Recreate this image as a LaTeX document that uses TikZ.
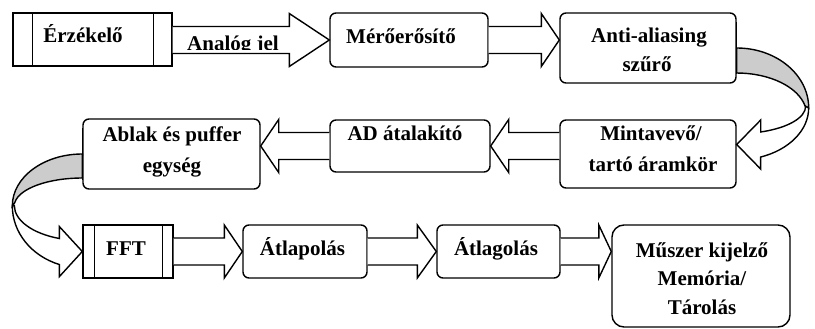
\documentclass[tikz,border=0pt]{standalone}
\usepackage{fontspec}
\setmainfont{Liberation Serif}
\usetikzlibrary{calc}

\tikzset{
  box/.style={draw, fill=white, line width=1.4pt, inner sep=0pt, rounded corners=6pt},
  barbox/.style={draw, fill=white, line width=1.4pt, inner sep=0pt},
  arrowbody/.style={draw, fill=white, line width=1.4pt, line join=miter},
  backband/.style={draw, fill=black!20, line width=1.4pt},
  frontband/.style={draw, fill=white, line width=1.4pt, line join=miter},
  lbl/.style={font=\fontsize{21}{25}\selectfont\bfseries, inner sep=0pt, anchor=base},
}

% horizontal block arrow: #1 tail point, #2 tip point, #3 x offset of the head base from the tip
\newcommand\blockarrow[3]{%
  \path[arrowbody] ($(#1)+(0,-13.5)$) -- ($(#2)+(#3,-13.5)$) -- ($(#2)+(#3,-26.5)$)
    -- (#2) -- ($(#2)+(#3,26.5)$) -- ($(#2)+(#3,13.5)$) -- ($(#1)+(0,13.5)$);}

\begin{document}
\begin{tikzpicture}[x=1pt, y=-1pt]
\useasboundingbox (0,0) rectangle (815,329);

% blocks
\node[barbox, minimum width=159, minimum height=53] (erz)   at (92.5,39.5) {};
\node[box, minimum width=158, minimum height=54]    (mero)  at (409,40) {};
\node[box, minimum width=176, minimum height=70]    (anti)  at (648,48) {};
\node[box, minimum width=176, minimum height=68]    (minta) at (648,154) {};
\node[box, minimum width=160, minimum height=52]    (ad)    at (410,146) {};
\node[box, minimum width=177, minimum height=70]    (ablak) at (171.5,154) {};
\node[barbox, minimum width=90, minimum height=53]  (fft)   at (128,251.5) {};
\node[box, minimum width=124, minimum height=53]    (atlap) at (305,251.5) {};
\node[box, minimum width=123, minimum height=53]    (atlag) at (498.5,251.5) {};
\node[box, rounded corners=12pt, minimum width=178, minimum height=102] (muszer) at (701,276) {};

% side bars of the two process blocks
\draw[line width=1.4pt] ([xshift=20pt]erz.north west) -- ([xshift=20pt]erz.south west);
\draw[line width=1.4pt] ([xshift=-19pt]erz.north east) -- ([xshift=-19pt]erz.south east);
\draw[line width=1.4pt] ([xshift=12pt]fft.north west) -- ([xshift=12pt]fft.south west);
\draw[line width=1.4pt] ([xshift=-11pt]fft.north east) -- ([xshift=-11pt]fft.south east);

% straight block arrows
\coordinate (t1) at (mero.west);
\blockarrow{erz.east |- t1}{t1}{-40}
\coordinate (t2) at (anti.west |- mero.east);
\blockarrow{mero.east}{t2}{-18}
\coordinate (t3) at (ad.east);
\blockarrow{minta.west |- t3}{t3}{18}
\coordinate (t4) at (ablak.east |- ad.west);
\blockarrow{ad.west}{t4}{18}
\blockarrow{fft.east}{atlap.west}{-18}
\blockarrow{atlap.east}{atlag.west}{-19}
\coordinate (t7) at (muszer.west |- atlag.east);
\blockarrow{atlag.east}{t7}{-12.5}

% curved arrow on the right: back face, then front face with head
\path[backband] (anti.east) arc[start angle=-90, end angle=0, x radius=72, y radius=60]
  -- ++(-3.5,-1.7) arc[start angle=-12, end angle=-90, x radius=70, y radius=42] -- cycle;
\coordinate (rtip) at ($(minta.east)+(0,-9.5)$);
\path[frontband] (rtip) -- ++(24,-24.5) -- ++(0,12)
  arc[start angle=69.6, end angle=0, x radius=69, y radius=27.5]
  -- ++(3,1.8) arc[start angle=0, end angle=70.5, x radius=72, y radius=52]
  -- ++(0,12) -- cycle;

% curved arrow on the left
\path[backband] (ablak.west) arc[start angle=-90, end angle=-180, x radius=70, y radius=52]
  -- ++(2.5,-3.4) arc[start angle=-173, end angle=-90, x radius=68, y radius=28] -- cycle;
\coordinate (ltip) at (fft.west);
\path[frontband] (ltip) -- ++(-23,-25) -- ++(0,12)
  arc[start angle=109.8, end angle=180, x radius=68, y radius=35]
  -- ++(-2,0.4) arc[start angle=180, end angle=109.1, x radius=70, y radius=62]
  -- ++(0,12) -- cycle;

% redraw the block edges the bands start from
\draw[line width=1.4pt] (anti.north east) ++(0,10) -- ([yshift=10pt]anti.south east);
\draw[line width=1.4pt] ([yshift=-10pt]ablak.north west) -- ([yshift=10pt]ablak.south west);

% labels
\node[lbl] (lerz) at (83,43) {Érzékelő};
\begin{scope}
  \clip (175,20) rectangle (290,50);
  \node[lbl] (lsig) at (233,50.5) {Analóg jel};
\end{scope}
\node[lbl] (lmero) at (401,44) {Mérőerősítő};
\node[lbl] (lanti1) at (649,43) {Anti-aliasing};
\node[lbl] (lanti2) at (647,71.5) {szűrő};
\node[lbl] (lminta1) at (651,140) {Mintavevő/};
\node[lbl] (lminta2) at (653,171.5) {tartó áramkör};
\node[lbl] (lad) at (405,141) {AD átalakító};
\node[lbl] (lablak1) at (172,142) {Ablak és puffer};
\node[lbl] (lablak2) at (172,172.5) {egység};
\node[lbl] (lfft) at (126,255) {FFT};
\node[lbl] (latlap) at (302.5,255) {Átlapolás};
\node[lbl] (latlag) at (496,255) {Átlagolás};
\node[lbl] (lmusz1) at (702,257) {Műszer kijelző};
\node[lbl] (lmusz2) at (702,285.5) {Memória/};
\node[lbl] (lmusz3) at (702,314) {Tárolás};
\end{tikzpicture}
\end{document}
